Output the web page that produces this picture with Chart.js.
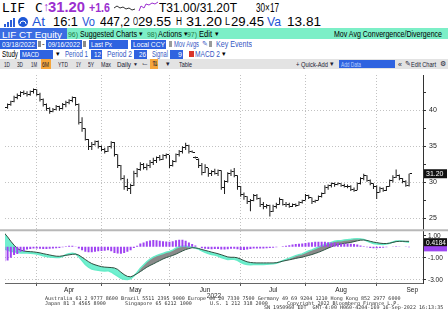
<!DOCTYPE html>
<html>
<head>
<meta charset="utf-8">
<title>LIF CT Equity - MACD</title>
<script src="https://cdn.jsdelivr.net/npm/chart.js@4.4.1/dist/chart.umd.min.js"></script>
<style>
  html, body { margin: 0; padding: 0; }
  body { width: 448px; height: 322px; overflow: hidden; background: #fff; position: relative;
         font-family: "Liberation Sans", Arial, sans-serif; color: #000; }
  .band { position: absolute; left: 0; width: 448px; }
  .t { position: absolute; white-space: nowrap; line-height: 1; }
  .blk { position: absolute; }
  .foot { position: absolute; font-family: "DejaVu Sans Mono", monospace; font-size: 5.05px; color: #333;
          white-space: pre; line-height: 1; }
  #wrap { position: absolute; left: 0; top: 70px; width: 448px; height: 230px; }
</style>
</head>
<body>

<div class="band" style="top:28px;height:11px;background:#7cefc7"></div>
<div class="band" style="top:59px;height:10px;background:#e3e3e3"></div>

<svg style="position:absolute;left:113px;top:1px" width="48" height="12">
  <polyline points="1,7 4,5 7,7 10,6 13,8 16,7 19,9 22,8" stroke="#333" fill="none" stroke-width="1"/>
  <polyline points="26,10 28,5 31,7 33,3 36,4 39,2 42,3 45,1" stroke="#9b2fd0" fill="none" stroke-width="1"/>
</svg>
<svg style="position:absolute;left:3px;top:16px" width="26" height="12">
  <rect x="1" y="8" width="2" height="3" fill="#2b5fd9"/>
  <rect x="4" y="6" width="2" height="5" fill="#2b5fd9"/>
  <rect x="7" y="4" width="2" height="7" fill="#2b5fd9"/>
  <rect x="10" y="2" width="2" height="9" fill="#2b5fd9"/>
  <circle cx="20" cy="6" r="5" fill="#1c57d6"/>
  <path d="M17 8 A3 3 0 0 1 23 8" stroke="#fff" fill="none" stroke-width="1"/>
</svg>

<div id="wrap"><canvas id="chart" width="448" height="230"></canvas></div>

<div class="foot" style="left:45px;top:295.5px">Australia 61 2 9777 8600 Brazil 5511 2395 9000 Europe 44 20 7330 7500 Germany 49 69 9204 1210 Hong Kong 852 2977 6000</div>
<div class="foot" style="left:45px;top:300.5px">Japan 81 3 4565 8900</div>
<div class="foot" style="left:125px;top:300.5px">Singapore 65 6212 1000</div>
<div class="foot" style="left:210px;top:300.5px">U.S. 1 212 318 2000</div>
<div class="foot" style="left:287px;top:300.5px">Copyright 2022 Bloomberg Finance L.P.</div>
<div class="foot" style="left:264px;top:305px">SN 1950960 EDT  GMT-4:00 H060-4204-169 16-Sep-2022 16:13:35</div>

<script>
// Axis labels: month names sit between first trading days of each month (day index)
const monthNames = ['Apr', 'May', 'Jun', 'Jul', 'Aug', 'Sep'];
const monthStart = [10, 30, 51, 73, 93, 115];
const monthMid = [20, 40.5, 62, 83, 104, 126];
const priceTicks = [25, 27.5, 30, 32.5, 35, 37.5, 40, 42.5];
const macdTicks = [-3, -2, -1, 0, 1];
const macdTag = '0.4184';

// Daily OHLC, 03/18/2022 - 09/16/2022 (one value per trading day)
const openPx = [40.2,40.4,40.8,41.2,41.8,42.0,42.5,42.3,42.1,42.6,
  42.8,42.2,41.5,40.8,40.2,39.8,40.1,40.5,40.2,40.8,
  41.0,41.3,41.7,40.8,38.3,37.4,36.0,35.0,35.3,35.6,
  34.9,34.6,34.3,34.9,35.5,33.8,32.3,30.6,29.5,29.2,
  29.6,31.2,31.8,32.5,32.0,32.4,32.8,33.0,33.4,33.2,
  33.7,33.8,32.4,32.9,33.8,34.3,34.8,35.1,34.3,33.5,
  33.2,32.3,31.4,32.0,31.2,31.5,31.3,31.6,29.3,30.1,
  31.2,31.5,31.0,29.4,28.3,28.0,27.3,27.5,28.2,27.8,
  27.0,26.6,26.8,26.0,26.6,27.0,27.6,27.0,26.9,26.7,
  27.0,26.8,27.2,27.5,28.2,27.9,27.3,27.5,28.0,28.5,
  29.3,29.6,29.8,29.7,29.9,29.6,29.5,29.4,29.0,28.9,
  29.8,30.5,30.9,30.3,29.8,29.4,28.6,29.1,28.9,29.4,
  30.2,30.7,31.0,30.5,30.1,29.55];
const highPx = [40.6,40.9,41.3,42.0,42.3,42.6,42.7,42.6,42.7,43.0,
  42.9,42.4,41.6,40.9,40.4,40.3,40.7,40.6,41.0,41.3,
  41.5,41.9,41.8,40.9,39.0,37.5,36.0,35.6,35.8,35.8,
  35.1,34.8,35.0,35.7,35.6,33.9,32.4,31.0,30.5,29.8,
  31.6,32.0,32.8,32.7,32.6,33.1,33.4,33.6,33.8,33.9,
  34.0,33.8,33.1,34.0,34.5,35.0,35.5,35.2,34.4,33.6,
  33.3,32.7,32.5,32.0,31.7,31.9,31.8,31.7,30.3,31.4,
  31.8,32.0,31.0,29.5,28.6,28.1,27.7,28.4,28.4,27.9,
  27.3,27.0,26.9,26.9,27.2,27.9,27.7,27.3,27.2,27.1,
  27.1,27.4,27.6,28.4,28.3,27.9,27.6,28.2,28.6,29.6,
  29.7,30.0,30.0,30.0,29.9,29.8,29.7,29.6,29.3,30.0,
  30.7,31.2,31.0,30.4,29.9,29.6,29.4,29.3,29.5,30.4,
  31.0,31.8,31.1,30.6,30.3,31.2];
const lowPx = [40.0,40.2,40.6,41.1,41.5,41.8,42.1,41.9,42.0,42.3,
  42.0,41.2,40.5,39.9,39.5,39.7,40.0,39.9,40.1,40.4,
  40.8,41.1,40.6,38.0,37.0,35.8,34.5,34.5,35.1,34.7,
  34.3,34.0,34.2,34.7,33.6,32.0,30.3,29.0,28.8,28.4,
  29.5,30.7,31.6,31.8,31.7,32.0,32.4,32.7,33.0,33.1,
  33.3,32.0,32.2,32.8,33.6,34.0,34.5,34.0,34.1,33.3,
  32.0,31.0,31.3,30.8,30.9,31.1,30.9,29.0,28.4,30.0,
  30.9,30.7,29.0,28.0,27.6,27.0,26.0,27.4,27.6,26.6,
  26.3,26.4,25.3,25.9,26.4,26.9,26.8,26.6,26.5,26.6,
  26.6,26.8,27.1,27.5,27.7,27.0,27.2,27.5,27.9,28.4,
  29.0,29.3,29.4,29.6,29.4,29.3,29.2,28.8,28.7,28.9,
  29.7,30.3,30.1,29.6,29.1,27.7,28.6,28.7,28.8,29.4,
  30.0,30.6,30.3,29.9,29.4,29.45];
const closePx = [40.4,40.8,41.2,41.8,42.0,42.5,42.3,42.1,42.6,42.8,
  42.2,41.5,40.8,40.2,39.8,40.1,40.5,40.2,40.8,41.0,
  41.3,41.7,40.8,38.3,37.4,36.0,35.0,35.3,35.6,34.9,
  34.6,34.3,34.9,35.5,33.8,32.3,30.6,29.5,29.2,29.6,
  31.2,31.8,32.5,32.0,32.4,32.8,33.0,33.4,33.2,33.7,
  33.8,32.4,32.9,33.8,34.3,34.8,35.1,34.3,34.2,33.4,
  32.3,31.4,32.0,31.2,31.5,31.3,31.6,29.3,30.1,31.2,
  31.5,31.0,29.4,28.3,28.0,27.3,27.5,28.2,27.8,27.0,
  26.6,26.8,26.0,26.6,27.0,27.6,27.0,26.9,26.7,27.0,
  26.8,27.2,27.5,28.2,27.9,27.3,27.5,28.0,28.5,29.3,
  29.6,29.8,29.7,29.9,29.6,29.5,29.4,29.0,28.9,29.8,
  30.5,30.9,30.3,29.8,29.4,28.6,29.1,28.9,29.4,30.2,
  30.7,31.0,30.5,30.1,29.55,31.2];

// MACD (12, 26, 9) study panel
const macdLine = [-0.2,-0.3,-0.4,-0.45,-0.5,-0.55,-0.55,-0.55,-0.58,-0.6,
  -0.65,-0.72,-0.82,-0.88,-0.92,-0.95,-0.97,-0.96,-0.87,-0.72,
  -0.63,-0.58,-0.64,-0.9,-1.25,-1.6,-1.85,-2.02,-2.08,-2.12,
  -2.18,-2.19,-2.16,-2.28,-2.47,-2.65,-2.85,-2.95,-2.97,-2.9,
  -2.65,-2.33,-1.95,-1.65,-1.35,-1.11,-0.93,-0.8,-0.7,-0.6,
  -0.5,-0.43,-0.3,-0.12,0.0,0.05,0.05,0.0,-0.03,-0.1,
  -0.2,-0.37,-0.5,-0.6,-0.7,-0.75,-0.83,-0.97,-1.07,-1.14,
  -1.13,-1.13,-1.22,-1.4,-1.53,-1.61,-1.62,-1.6,-1.61,-1.61,
  -1.61,-1.58,-1.56,-1.54,-1.49,-1.38,-1.25,-1.14,-1.03,-0.92,
  -0.8,-0.71,-0.64,-0.51,-0.38,-0.28,-0.15,-0.03,0.09,0.2,
  0.3,0.4,0.5,0.55,0.56,0.61,0.65,0.68,0.72,0.74,
  0.72,0.67,0.53,0.4,0.31,0.26,0.23,0.22,0.25,0.33,
  0.43,0.52,0.52,0.5,0.46,0.42];
const signalLine = [1.25,0.9,0.5,0.15,-0.15,-0.3,-0.38,-0.42,-0.44,-0.46,
  -0.5,-0.55,-0.62,-0.68,-0.74,-0.8,-0.85,-0.86,-0.82,-0.77,
  -0.73,-0.68,-0.66,-0.75,-0.95,-1.15,-1.35,-1.52,-1.63,-1.72,
  -1.8,-1.84,-1.86,-1.88,-1.92,-2.05,-2.3,-2.52,-2.68,-2.72,
  -2.6,-2.43,-2.25,-2.05,-1.85,-1.69,-1.55,-1.4,-1.25,-1.1,
  -0.98,-0.88,-0.78,-0.66,-0.52,-0.38,-0.25,-0.16,-0.08,-0.1,
  -0.15,-0.25,-0.32,-0.4,-0.48,-0.55,-0.63,-0.72,-0.82,-0.92,
  -0.95,-0.95,-1.0,-1.12,-1.25,-1.36,-1.42,-1.45,-1.46,-1.46,
  -1.46,-1.46,-1.46,-1.46,-1.44,-1.38,-1.3,-1.24,-1.18,-1.12,
  -1.05,-0.99,-0.94,-0.86,-0.78,-0.7,-0.6,-0.5,-0.38,-0.25,
  -0.12,0.0,0.12,0.2,0.26,0.31,0.35,0.4,0.47,0.54,
  0.6,0.62,0.58,0.5,0.43,0.38,0.33,0.3,0.3,0.33,
  0.4,0.47,0.5,0.5,0.5,0.5];
const macdHist = [-1.3,-1.25,-1.0,-0.75,-0.65,-0.45,-0.4,-0.25,-0.2,-0.15,
  -0.15,-0.18,-0.2,-0.2,-0.18,-0.15,-0.12,-0.1,-0.05,0.05,
  0.1,0.1,0.02,-0.15,-0.3,-0.45,-0.5,-0.5,-0.45,-0.4,
  -0.38,-0.35,-0.3,-0.4,-0.55,-0.6,-0.62,-0.55,-0.45,-0.3,
  -0.1,0.1,0.3,0.4,0.5,0.58,0.62,0.6,0.55,0.5,
  0.48,0.45,0.5,0.6,0.65,0.65,0.55,0.4,0.25,0.12,
  0.0,-0.12,-0.18,-0.2,-0.22,-0.2,-0.2,-0.25,-0.25,-0.22,
  -0.18,-0.18,-0.22,-0.28,-0.28,-0.25,-0.2,-0.15,-0.15,-0.15,
  -0.15,-0.12,-0.1,-0.08,-0.05,0.0,0.05,0.1,0.15,0.2,
  0.25,0.28,0.3,0.35,0.4,0.42,0.45,0.47,0.47,0.45,
  0.42,0.4,0.38,0.35,0.3,0.3,0.3,0.28,0.25,0.2,
  0.12,0.05,-0.05,-0.1,-0.12,-0.12,-0.1,-0.08,-0.05,0.0,
  0.03,0.05,0.02,0.0,-0.02,-0.05];

// ---- terminal header (text squeezed to the narrow widths of the terminal font) ----
const PURPLE = '#9b2fd0', BLUE = '#1e55d6', LINK = '#3557c4', BOXBLUE = '#2f63e0', NAVY = '#223';

function put(x, top, text, size, width, css) {
  const s = document.createElement('span');
  s.className = 't';
  s.textContent = text;
  s.style.cssText = `left:${x}px;top:${top}px;font-size:${size}px;` + (css || '');
  document.body.appendChild(s);
  if (width) {
    const w = s.getBoundingClientRect().width;
    s.style.transformOrigin = '0 0';
    s.style.transform = `scaleX(${width / w})`;
  }
  return s;
}
function block(x, top, w, h, bg) {
  const d = document.createElement('div');
  d.className = 'blk';
  d.style.cssText = `left:${x}px;top:${top}px;width:${w}px;height:${h}px;background:${bg}`;
  document.body.appendChild(d);
}
function box(x, top, w, text, tw, right) {
  block(x, top, w, 9, BOXBLUE);
  put(right ? x + w - 1 - tw : x + 2, top + 1, text, 7.5, tw, 'color:#fff');
}

// row 1
put(2, 1, 'LIF', 13, 23, 'font-family:"DejaVu Sans Mono",monospace');
put(35, 1, 'C', 13, 0, 'font-family:"DejaVu Sans Mono",monospace');
put(43, 1, '↑', 12, 0, `color:${PURPLE}`);
put(48, 0, '31.20', 14, 37, `color:${PURPLE};font-weight:bold`);
put(89, 1.5, '+1.6', 12, 21, `color:${PURPLE};font-weight:bold`);
put(159, 2, 'T31.00/31.20T', 12, 78);
put(256, 2, '30×17', 12, 23);

// row 2
put(32, 15, 'At', 13, 13, `color:${BLUE}`);
put(53, 15, '16:1', 13, 25);
put(82, 15, 'Vo', 13, 13, `color:${BLUE}`);
put(100, 15, '447,2', 13, 30);
put(133, 17, 'O', 10, 5);
put(138, 15, '29.55', 13, 33);
put(176, 17, 'H', 10, 6);
put(186, 15, '31.20', 13, 36);
put(225, 17, 'L', 10, 5);
put(231, 15, '29.45', 13, 33);
put(267, 15, 'Va', 13, 14, `color:${BLUE}`);
put(287, 15, '13.81', 13, 34);

// row 3
block(0, 28, 67, 11, '#3a6de2');
put(2, 29.5, 'LIF CT Equity', 9.5, 60, 'color:#fff');
put(68, 30.5, '96)', 7, 10, 'color:#1f7a45');
put(80, 29.5, 'Suggested Charts', 9, 57);
put(139, 30, '▾', 7);
put(147, 30.5, '98)', 7, 10, 'color:#1f7a45');
put(158, 29.5, 'Actions', 9, 24);
put(184, 30, '▾', 7);
put(187, 30.5, '97)', 7, 10, 'color:#1f7a45');
put(199, 29.5, 'Edit', 9, 13);
put(215, 30, '▾', 7);
put(334, 29.5, 'Mov Avg Convergence/Divergence', 9, 108);

// row 4
box(0, 40, 37, '03/18/2022', 33);
block(38, 41, 3, 6, '#8a8a8a');
put(42, 40, '-', 8);
box(46, 40, 36, '09/16/2022', 32);
block(83, 41, 3, 6, '#8a8a8a');
box(89, 40, 39, 'Last Px', 21);
box(131, 40, 35, 'Local CCY', 32);
block(169, 41, 3, 6, '#9a9a9a');
put(174, 40, 'Mov Avgs', 8.5, 25, `color:${LINK}`);
put(202, 40, '✎', 7, 0, `color:${LINK}`);
block(209, 41, 3, 6, '#9a9a9a');
put(216, 40, 'Key Events', 8.5, 36, `color:${LINK}`);

// row 5
put(2, 50, 'Study', 8.5, 16);
box(20, 50, 33, 'MACD', 17);
put(56, 50, '▾', 7);
put(65, 50, 'Period 1', 8.5, 23, `color:${LINK}`);
box(91, 50, 11, '12', 7, true);
put(107, 50, 'Period 2', 8.5, 25, `color:${LINK}`);
box(134, 50, 13, '26', 7, true);
put(152, 50, 'Signal', 8.5, 16, `color:${LINK}`);
box(170, 50, 13, '9', 4, true);
block(189, 51, 5, 6, '#d9342b');
put(195, 50, 'MACD 2', 8.5, 25, `color:${LINK}`);
put(222, 50, '▾', 7);

// row 6 toolbar
block(41, 59, 10, 10, '#f5a53a');
block(150, 59, 8, 10, '#f5a53a');
[['1D', 4, 6], ['3D', 17, 6], ['1M', 31, 6], ['6M', 42, 7], ['YTD', 58, 10], ['1Y', 76, 5],
 ['5Y', 88, 6], ['Max', 101, 10], ['Daily', 117, 14], ['Table', 179, 13], ['+ Quick-Add', 296, 32],
 ['Edit Chart', 411, 25]].forEach(([s, x, w]) => put(x, 61, s, 7, w, `color:${NAVY}`));
put(133, 61.5, '▼', 5, 0, `color:${NAVY}`);
put(142, 60, '⌙', 7, 0, 'color:#556');
put(152, 60, '⇅', 7, 0, `color:${NAVY}`);
put(166, 61, '▾', 6.5, 0, `color:${NAVY}`);
put(330, 61, '▾', 6.5, 0, `color:${NAVY}`);
block(339, 60, 56, 8, BOXBLUE);
put(341, 60.5, 'Add Data', 7, 20, 'color:#bcd2ff');
put(398, 61, '«', 7, 0, `color:${NAVY}`);
put(405, 60.5, '✎', 6.5, 0, `color:${NAVY}`);
put(440, 60, '⚙', 7, 0, `color:${NAVY}`);

// ---- chart ----
const axisFont = '"Liberation Sans", Arial, sans-serif';

// little open / close ticks used as point styles
function tickMark(left) {
  const c = document.createElement('canvas');
  c.width = 5; c.height = 1;
  const g = c.getContext('2d');
  g.fillStyle = '#111';
  g.fillRect(left ? 0 : 3, 0, 2, 1);
  return c;
}

const hlData = closePx.map((c, i) => ({ x: i, y: [lowPx[i], highPx[i]] }));
const openData = openPx.map((v, i) => ({ x: i, y: v }));
const closeData = closePx.map((v, i) => ({ x: i, y: v }));
const histData = macdHist.map((v, i) => ({ x: i, y: v }));
const macdData = macdLine.map((v, i) => ({ x: i, y: v }));
const signalData = signalLine.map((v, i) => ({ x: i, y: v }));

// separator between panels and last value tags on the right axis
const panelMarks = {
  id: 'panelMarks',
  afterDraw(chart) {
    const { ctx, scales: { y, y2 } } = chart;
    ctx.save();
    ctx.fillStyle = '#b8b8b8';
    ctx.fillRect(0, y2.top - 1, chart.width, 2);

    const tag = (yy, h, color, text) => {
      ctx.fillStyle = color;
      ctx.fillRect(424, yy - h / 2, 23, h);
      if (text) {
        ctx.fillStyle = '#fff';
        ctx.font = '7px ' + axisFont;
        ctx.textBaseline = 'middle';
        ctx.fillText(text, 426, yy + 0.5, 20);
      }
    };
    tag(y.getPixelForValue(closePx[closePx.length - 1]), 9, '#111', closePx[closePx.length - 1].toFixed(2));
    tag(y2.getPixelForValue(macdHist[macdHist.length - 1]) + 1, 6, '#9c45f0', '');
    tag(y2.getPixelForValue(macdLine[macdLine.length - 1]), 8, '#111', macdTag);
    ctx.restore();
  }
};

const ctx = document.getElementById('chart').getContext('2d');
const chart = new Chart(ctx, {
  data: {
    datasets: [
      { type: 'bar', label: 'High-Low', data: hlData, yAxisID: 'y', backgroundColor: '#1a1a1a',
        barThickness: 1, inflateAmount: 0, grouped: false, order: 0 },
      { type: 'line', label: 'Open', data: openData, yAxisID: 'y', showLine: false,
        pointStyle: tickMark(true), pointRadius: 1, order: 0 },
      { type: 'line', label: 'Close', data: closeData, yAxisID: 'y', showLine: false,
        pointStyle: tickMark(false), pointRadius: 1, order: 0 },
      { type: 'bar', label: 'Histogram', data: histData, yAxisID: 'y2', backgroundColor: '#a044f2',
        barThickness: 2, inflateAmount: 0, grouped: false, order: 1 },
      { type: 'line', label: 'Signal', data: signalData, yAxisID: 'y2', borderColor: '#2f4f40',
        borderWidth: 1, pointRadius: 0, tension: 0, order: 2 },
      { type: 'line', label: 'MACD', data: macdData, yAxisID: 'y2', borderColor: '#66ecc8',
        borderWidth: 1.5, pointRadius: 0, tension: 0, order: 3,
        fill: { target: 4, above: '#8a8a8a', below: '#70efcf' } }
    ]
  },
  options: {
    responsive: false,
    animation: false,
    layout: { padding: 0 },
    plugins: { legend: { display: false }, tooltip: { enabled: false } },
    scales: {
      x: {
        type: 'linear', min: 0.2, max: 129.3, offset: false,
        afterBuildTicks: s => { s.ticks = monthStart.concat(monthMid).sort((a, b) => a - b).map(v => ({ value: v })); },
        afterFit: s => { s.height = 17; s.paddingLeft = 0; s.paddingRight = 0; },
        ticks: {
          autoSkip: false, maxRotation: 0, padding: 0, color: '#222',
          font: { family: axisFont, size: 6.5 },
          callback: v => { const k = monthMid.indexOf(v); return k >= 0 ? monthNames[k] : ''; }
        },
        grid: {
          offset: false,
          color: c => c.tick && monthStart.includes(c.tick.value) ? '#c2c2c2' : 'transparent',
          tickColor: c => c.tick && monthStart.includes(c.tick.value) ? '#555' : 'transparent',
          tickLength: 3
        },
        border: { color: '#666', dash: [1, 2] },
        title: { display: true, text: '2022', color: '#333', font: { family: axisFont, size: 6.5 }, padding: 0 }
      },
      y: {
        position: 'right', stack: 'panels', stackWeight: 159, min: 23.38, max: 44.86,
        afterBuildTicks: s => { s.ticks = priceTicks.map(v => ({ value: v })); },
        afterFit: s => { s.width = 25; s.paddingTop = 0; s.paddingBottom = 0; },
        ticks: {
          padding: 3, color: '#222', font: { family: axisFont, size: 7 },
          callback: v => v % 5 === 0 ? String(v) : ''
        },
        grid: {
          color: c => c.tick && c.tick.value % 5 === 0 ? '#c2c2c2' : 'transparent',
          tickColor: '#333', tickLength: 3
        },
        border: { color: '#333', dash: [1, 2] }
      },
      y2: {
        position: 'right', stack: 'panels', stackWeight: 54, min: -3.28, max: 1.5,
        afterBuildTicks: s => { s.ticks = macdTicks.map(v => ({ value: v })); },
        afterFit: s => { s.width = 25; s.paddingTop = 0; s.paddingBottom = 0; },
        ticks: {
          padding: 2, color: '#222', font: { family: axisFont, size: 6.5 },
          callback: v => v === 0 ? '' : v.toFixed(2)
        },
        grid: {
          color: c => !c.tick || c.tick.value === 1 ? 'transparent' : (c.tick.value === 0 ? '#9a9a9a' : '#c2c2c2'),
          tickColor: '#333', tickLength: 3
        },
        border: { color: '#333', dash: c => c.tick && c.tick.value === 0 ? [3, 2] : [1, 2] }
      }
    }
  },
  plugins: [panelMarks]
});
</script>
</body>
</html>
